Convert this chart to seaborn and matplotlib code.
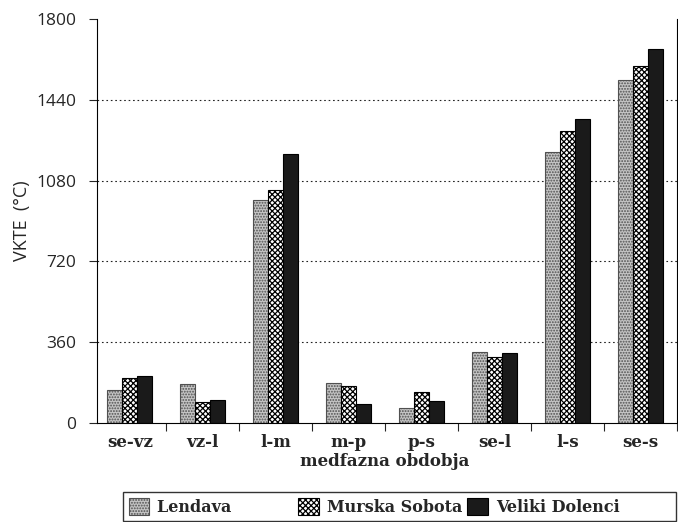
import matplotlib
matplotlib.use("Agg")
import matplotlib.pyplot as plt
from matplotlib.patches import Patch
import matplotlib.transforms as mtransforms
import seaborn as sns
import pandas as pd

categories = ["se-vz", "vz-l", "l-m", "m-p", "p-s", "se-l", "l-s", "se-s"]
group_note = "medfazna obdobja"
series = ["Lendava", "Murska Sobota", "Veliki Dolenci"]
lendava = [146, 172, 994, 176, 67, 317, 1206, 1528]
murska = [201, 94, 1039, 163, 136, 292, 1299, 1591]
veliki = [210, 103, 1199, 85, 100, 311, 1354, 1666]
yticks = [0, 360, 720, 1080, 1440, 1800]

rows = []
for name, vals in zip(series, [lendava, murska, veliki]):
    for c, v in zip(categories, vals):
        rows.append({"cat": c, "val": v, "loc": name})
df = pd.DataFrame(rows)

sns.set_style("ticks")
plt.rcParams["font.family"] = ["Open Sans", "DejaVu Sans"]
plt.rcParams["hatch.linewidth"] = 0.9

fig = plt.figure(figsize=(6.78, 5.22), dpi=100)
ax = fig.add_axes([97/678, 1-423/522, (677-97)/678, (423-19)/522])

palette = {"Lendava": "#c4c4c4", "Murska Sobota": "#ffffff", "Veliki Dolenci": "#1a1a1a"}
hatches = {"Lendava": "......", "Murska Sobota": "xxxxxx", "Veliki Dolenci": ""}
edges = {"Lendava": "#505050", "Murska Sobota": "black", "Veliki Dolenci": "black"}
sns.barplot(data=df, x="cat", y="val", hue="loc", hue_order=series, order=categories,
            palette=palette, saturation=1, width=0.62, edgecolor="black", linewidth=0.8,
            ax=ax, legend=False)
for name, cont in zip(series, ax.containers):
    for p in cont:
        p.set_hatch(hatches[name])
        p.set_edgecolor(edges[name])

serif = ["DejaVu Serif", "Liberation Serif"]
ax.set_ylim(0, 1800)
ax.set_xlim(-0.45, 7.5)
ax.set_yticks(yticks)
ax.set_yticklabels([str(t) for t in yticks], fontsize=12.5)
for t in yticks[1:-1]:
    ax.axhline(t, color="#222222", lw=0.8, ls=(0, (1.5, 2.5)), zorder=0)

ax.set_xticks(range(len(categories)))
ax.set_xticklabels(categories, fontsize=12, fontweight="bold", family=serif)
ax.tick_params(axis="x", length=0, pad=8)
ax.set_xticks([i + 0.5 for i in range(0, len(categories))], minor=True)
ax.tick_params(axis="x", which="minor", length=6, width=0.8)
ax.tick_params(axis="y", length=6, width=0.8, pad=9)
ax.set_xlabel("")
ax.set_ylabel("VKTE  (°C)", fontsize=13, labelpad=4)

trans = mtransforms.blended_transform_factory(ax.transData, fig.transFigure)
ax.text(3.5, 1 - 461/522, group_note, transform=trans, ha="center", va="center",
        fontsize=12, fontweight="bold", family=serif)

ax.spines["top"].set_visible(False)
for s in ["left", "bottom", "right"]:
    ax.spines[s].set_color("black")
    ax.spines[s].set_linewidth(0.8)

handles = [Patch(facecolor=palette[n], edgecolor=edges[n], hatch=hatches[n], linewidth=0.8)
           for n in series]
pad = {"Lendava": " " * 11, "Murska Sobota": "", "Veliki Dolenci": " " * 9}
labels = [n + pad[n] for n in series]
leg = fig.legend(handles, labels, loc="upper left", bbox_to_anchor=(123/678, 1-492/522),
                 ncol=3, frameon=True, fancybox=False, edgecolor="black",
                 prop={"family": serif, "weight": "bold", "size": 11.5},
                 handlelength=1.3, handleheight=1.3, columnspacing=0.3, handletextpad=0.5,
                 borderpad=0.35, borderaxespad=0)
leg.get_frame().set_linewidth(1.0)

fig.savefig("out.png", dpi=100)
